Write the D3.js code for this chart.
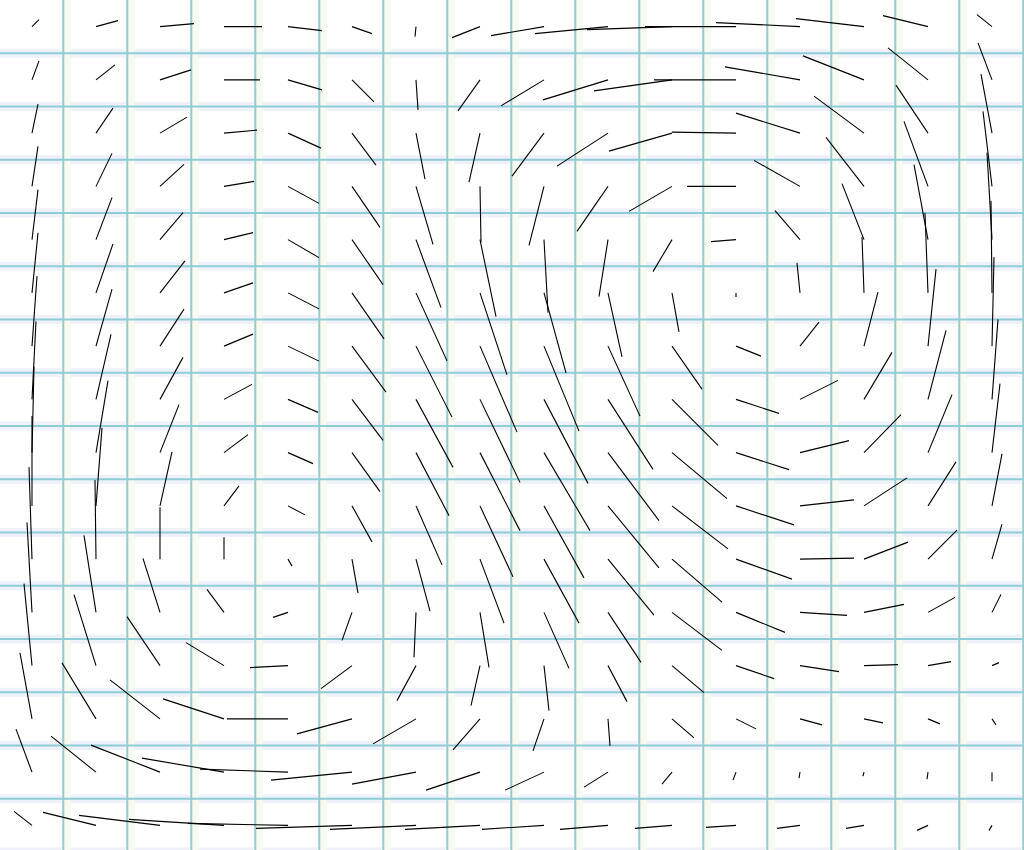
<!DOCTYPE html>
<html>
<head>
<meta charset="utf-8">
<script src="https://cdn.jsdelivr.net/npm/d3@7"></script>
<style>
  html, body { margin: 0; padding: 0; background: #ffffff; overflow: hidden; }
  svg { display: block; }
</style>
</head>
<body>
<script>
// ---- data: 16 x 16 grid of vectors (east component U, south component V), one array per row ----
const columns = d3.range(16);
const rows = d3.range(16);

const U = [
  [  7,  22,  34,  38,  34,  20,  -1, -28, -53, -73, -85, -91, -84, -68, -45, -15],
  [  7,  19,  31,  36,  34,  22,   2, -22, -43, -65, -78, -82, -75, -61, -40, -14],
  [  6,  17,  27,  33,  33,  24,   9, -11, -32, -51, -63, -64, -64, -50, -32, -11],
  [  6,  16,  24,  30,  31,  28,  17,   1, -15, -31, -43, -49, -46, -38, -24,  -9],
  [  6,  16,  23,  29,  31,  31,  25,  16,   4,  -9, -19, -25, -25, -22, -14,  -5],
  [  6,  17,  25,  29,  31,  32,  31,  27,  22,  14,   7,   0,  -3,  -2,  -3,  -1],
  [  5,  16,  24,  29,  31,  34,  36,  37,  35,  32,  30,  25,  19,  14,   8,   2],
  [  4,  15,  23,  28,  30,  31,  37,  40,  44,  45,  46,  43,  38,  28,  18,   6],
  [  2,  12,  19,  24,  25,  28,  33,  40,  46,  51,  55,  53,  49,  37,  24,   8],
  [  0,   6,  12,  15,  17,  20,  26,  33,  40,  51,  56,  58,  54,  43,  28,  10],
  [ -3,  -1,   0,   0,   4,   6,  14,  24,  35,  46,  50,  56,  54,  44,  29,  10],
  [ -5, -12, -17, -17, -15, -10,  -2,   9,  25,  33,  50,  49,  47,  40,  27,   9],
  [ -8, -22, -33, -38, -38, -31, -19,  -9,   5,  19,  32,  38,  39,  34,  23,   7],
  [-12, -34, -50, -61, -61, -55, -43, -27, -11,   2,  22,  20,  22,  19,  12,   4],
  [-16, -45, -69, -82, -88, -81, -64, -54, -39, -24, -10,  -3,  -1,  -1,  -1,   0],
  [-18, -53, -81, -95,-100, -96, -86, -75, -62, -48, -37, -30, -23, -18, -11,  -3]
];

const V = [
  [ -7,  -6,  -3,   0,   4,   7,  10,  11,   9,   7,   3,   0,  -4,  -8, -11, -12],
  [-19, -15, -10,   0,  10,  22,  30,  31,  26,  20,  11,   0, -13, -24, -32, -37],
  [-29, -25, -16,  -3,  15,  32,  46,  49,  43,  33,  18,  -1, -20, -37, -48, -59],
  [-40, -33, -22,  -5,  17,  41,  58,  56,  59,  45,  25,   0, -26, -49, -65, -75],
  [-50, -42, -27,  -7,  18,  45,  68,  77,  73,  57,  32,   2, -29, -56, -75, -87],
  [-60, -49, -32, -10,  16,  46,  68,  82,  80,  64,  39,   4, -30, -56, -80, -92],
  [-70, -57, -37, -12,  15,  46,  71,  86,  85,  70,  43,  10, -24, -54, -77, -89],
  [-78, -65, -42, -15,  13,  41,  68,  83,  84,  70,  46,  14, -19, -47, -69, -80],
  [-86, -72, -48, -18,  11,  39,  63,  78,  78,  68,  46,  17, -12, -38, -58, -69],
  [-90, -78, -54, -20,   9,  36,  59,  71,  72,  62,  43,  19,  -6, -28, -44, -52],
  [-92, -79, -52, -22,   7,  34,  52,  64,  64,  56,  43,  20,  -1, -17, -29, -35],
  [-90, -77, -54, -23,   5,  28,  45,  55,  56,  50,  38,  20,   3,  -8, -15, -18],
  [-82, -71, -49, -23,   2,  23,  35,  40,  45,  36,  27,  13,   6,  -1,  -4,  -3],
  [-66, -56, -39, -20,   0,  15,  25,  31,  32,  27,  19,  10,   6,   4,   5,   6],
  [-43, -36, -27, -14,  -3,   8,  12,  18,  18,  15,  12,   8,   6,   4,   7,   9],
  [-14, -13, -10,  -6,  -2,   3,   4,   4,   4,   4,   3,   2,   3,   3,   5,   5]
];

// ---- drawing ----
const W = 1024, H = 850;
const svg = d3.select("body").append("svg").attr("width", W).attr("height", H);

const x = d3.scaleLinear().domain([0, 16]).range([0, 1024]);
const y = d3.scaleLinear().domain([0, 16]).range([0, 852]);
const k = d3.scaleLinear().domain([0, 1]).range([0, 1]); // vector length scale (px per unit)

svg.append("rect").attr("width", W).attr("height", H).attr("fill", "#ffffff");

const gridTicks = d3.range(1, 17);
const grid = svg.append("g");
// soft halos around grid lines
grid.selectAll("line.hh").data(gridTicks).join("line")
  .attr("x1", 0).attr("x2", W)
  .attr("y1", d => y(d)).attr("y2", d => y(d))
  .attr("stroke", "#eef1fa").attr("stroke-width", 9);
grid.selectAll("line.vh").data(gridTicks).join("line")
  .attr("y1", 0).attr("y2", H)
  .attr("x1", d => x(d) + 2).attr("x2", d => x(d) + 2)
  .attr("stroke", "#f8faf0").attr("stroke-width", 9);
grid.selectAll("line.h").data(gridTicks).join("line")
  .attr("x1", 0).attr("x2", W)
  .attr("y1", d => y(d)).attr("y2", d => y(d))
  .attr("stroke", "#8ecdd6").attr("stroke-width", 2);
grid.selectAll("line.v").data(gridTicks).join("line")
  .attr("y1", 0).attr("y2", H)
  .attr("x1", d => x(d) - 0.7).attr("x2", d => x(d) - 0.7)
  .attr("stroke", "#8ecdd6").attr("stroke-width", 2);

const vectors = [];
rows.forEach(j => columns.forEach(i => vectors.push({ i, j, u: U[j][i], v: V[j][i] })));

svg.append("g").selectAll("line").data(vectors).join("line")
  .attr("x1", d => x(d.i + 0.5))
  .attr("y1", d => y(d.j + 0.5))
  .attr("x2", d => x(d.i + 0.5) + k(d.u))
  .attr("y2", d => y(d.j + 0.5) + k(d.v))
  .attr("stroke", "#000000")
  .attr("stroke-width", 1.1)
  .attr("stroke-linecap", "butt");
</script>
</body>
</html>
